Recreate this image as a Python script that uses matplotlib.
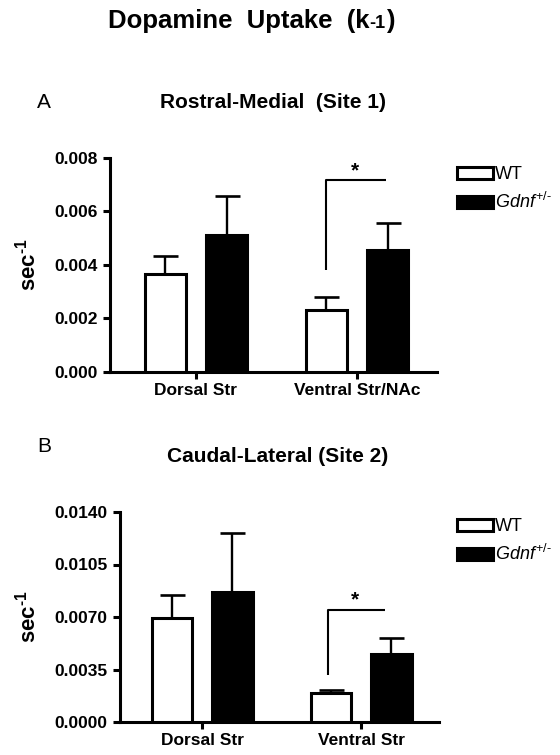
import numpy as np
import matplotlib
matplotlib.use("Agg")
import matplotlib.pyplot as plt
from matplotlib.ticker import FormatStrFormatter
from matplotlib.transforms import offset_copy, ScaledTranslation

plt.rcParams['font.family'] = ['Liberation Sans', 'DejaVu Sans']
plt.rcParams['mathtext.fontset'] = 'custom'
plt.rcParams['mathtext.rm'] = 'Liberation Sans'
plt.rcParams['mathtext.it'] = 'Liberation Sans:italic'
plt.rcParams['mathtext.bf'] = 'Liberation Sans:bold'

HY = '\u2010'  # short hyphen, not a minus sign

groups = ['WT', 'Gdnf+/-']

# panel A: Rostral-Medial (Site 1)
cats_a = ['Dorsal Str', 'Ventral Str/NAc']
wt_a = [0.00366, 0.00232]
wt_err_a = [0.00069, 0.00047]
het_a = [0.00512, 0.00456]
het_err_a = [0.00147, 0.00100]
ticks_a = [0.000, 0.002, 0.004, 0.006, 0.008]
bracket_a = [0.00381, 0.00718]

# panel B: Caudal-Lateral (Site 2)
cats_b = ['Dorsal Str', 'Ventral Str']
wt_b = [0.00693, 0.00196]
wt_err_b = [0.00156, 0.00015]
het_b = [0.00867, 0.00451]
het_err_b = [0.00393, 0.00112]
ticks_b = [0.0000, 0.0035, 0.0070, 0.0105, 0.0140]
bracket_b = [0.00311, 0.00749]

W, H = 560, 755
fig = plt.figure(figsize=(W / 100, H / 100), dpi=100)


def fbox(l, t, r, b):
    return [l / W, 1 - b / H, (r - l) / W, (b - t) / H]


def panel(rect, cats, wt, wt_err, het, het_err, ticks, fmt, xlim, bracket, br_x,
          lab_x, xlab_shift):
    ax = fig.add_axes(rect)
    x = np.arange(len(cats))
    bw = 0.255
    off = 0.19
    lw = 2.2
    ax.bar(x - off, wt, bw, color='white', edgecolor='black', linewidth=lw, zorder=3, label='WT')
    ax.bar(x + off, het, bw, color='black', edgecolor='black', linewidth=lw, zorder=3,
           label=r'$\mathit{Gdnf}^{\mathrm{+/' + HY + '}}$')
    for xs, ys, es in [(x - off, wt, wt_err), (x + off, het, het_err)]:
        ax.errorbar(xs, ys, yerr=[np.zeros(len(es)), es], fmt='none', ecolor='black',
                    elinewidth=1.7, capsize=9, capthick=1.9, zorder=2)
    # significance bracket on the second group
    bx0, bx1 = 1 + br_x[0], 1 + br_x[1]
    ax.plot([bx0, bx0, bx1], [bracket[0], bracket[1], bracket[1]], color='black',
            linewidth=1.5, solid_capstyle='butt', zorder=4)
    ax.text((bx0 + bx1) / 2 - 0.01, bracket[1], '*', ha='center', va='bottom',
            fontsize=15, fontweight='bold')
    ax.set_xlim(*xlim)
    ax.set_ylim(ticks[0], ticks[-1])
    ax.set_yticks(ticks)
    ax.yaxis.set_major_formatter(FormatStrFormatter(fmt))
    ax.set_xticks(x)
    ax.set_xticklabels(cats, fontsize=12.5, fontweight='bold')
    shift = ScaledTranslation(xlab_shift / 100, 0, fig.dpi_scale_trans)
    for lab in ax.get_xticklabels():
        lab.set_transform(lab.get_transform() + shift)
    for lab in ax.get_yticklabels():
        lab.set_fontsize(12.5)
        lab.set_fontweight('bold')
    ax.spines['top'].set_visible(False)
    ax.spines['right'].set_visible(False)
    ax.spines['left'].set_linewidth(2.2)
    ax.spines['bottom'].set_linewidth(2.2)
    ax.tick_params(axis='y', length=5, width=2.2, pad=4)
    ax.tick_params(axis='x', length=5, width=2.2, pad=3)
    ax.set_ylabel(r'$\mathbf{sec}^{\mathbf{' + HY + '1}}$', fontsize=16)
    ax.yaxis.set_label_coords(lab_x, 0.5)
    return ax


ax_a = panel(fbox(110, 158, 437, 372), cats_a, wt_a, wt_err_a, het_a, het_err_a,
             ticks_a, '%.3f', (-0.534, 1.497), bracket_a, (-0.19, 0.18), -0.212, -7)
ax_b = panel(fbox(120, 512, 439, 722), cats_b, wt_b, wt_err_b, het_b, het_err_b,
             ticks_b, '%.4f', (-0.516, 1.49), bracket_b, (-0.21, 0.15), -0.248, -4)

for ax, top in [(ax_a, 166), (ax_b, 518)]:
    ax.legend(loc='upper left', bbox_to_anchor=(457 / W, 1 - top / H),
              bbox_transform=fig.transFigure, frameon=False, fontsize=13,
              handlelength=2.0, handleheight=0.65, handletextpad=0.1,
              labelspacing=0.5, borderpad=0, borderaxespad=0)

# main title, "-1" set smaller on the same baseline
fig.canvas.draw()
r = fig.canvas.get_renderer()
t1 = fig.text(108 / W, 1 - 28 / H, 'Dopamine  Uptake  (k', ha='left', va='baseline',
              fontsize=18.5, fontweight='bold')
w1 = t1.get_window_extent(r).width
t2 = fig.text(108 / W, 1 - 28 / H, HY + '1',
              transform=offset_copy(fig.transFigure, fig, x=w1, y=0, units='dots'),
              ha='left', va='baseline', fontsize=13, fontweight='bold')
w2 = t2.get_window_extent(r).width
fig.text(108 / W, 1 - 28 / H, ')',
         transform=offset_copy(fig.transFigure, fig, x=w1 + w2, y=0, units='dots'),
         ha='left', va='baseline', fontsize=18.5, fontweight='bold')

fig.text(37 / W, 1 - 103 / H, 'A', ha='left', va='center', fontsize=15)
fig.text(273 / W, 1 - 102 / H, 'Rostral-Medial  (Site 1)', ha='center', va='center',
         fontsize=15, fontweight='bold')
fig.text(37 / W, 1 - 447 / H, 'B', ha='left', va='center', fontsize=15)
fig.text(278 / W, 1 - 457 / H, 'Caudal-Lateral (Site 2)', ha='center', va='center',
         fontsize=15, fontweight='bold')

fig.savefig('out.png', dpi=100)
